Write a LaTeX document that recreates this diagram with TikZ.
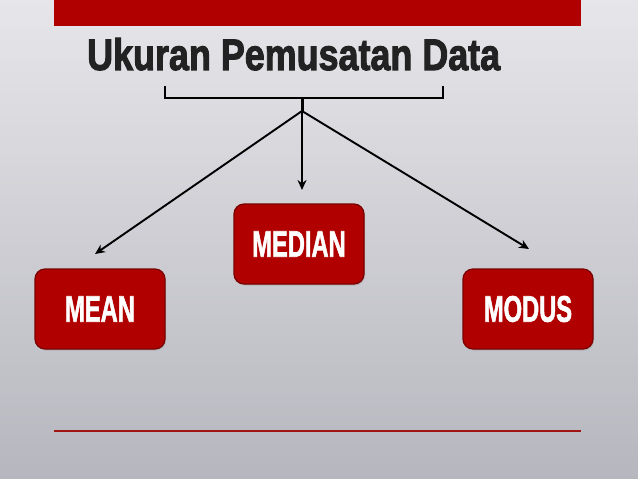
\documentclass[tikz,border=0pt]{standalone}
\usepackage{fontspec}
\setmainfont{Liberation Sans}
\newfontfamily\heavyfont[FakeBold=2.5]{Liberation Sans Bold}
\newfontfamily\boxfont[FakeBold=2]{Liberation Sans Bold}
\usetikzlibrary{arrows.meta,shadows}
\definecolor{barred}{HTML}{B00000}
\definecolor{boxedge}{HTML}{7A0000}
\definecolor{bgtop}{HTML}{E6E6EA}
\definecolor{bgbot}{HTML}{B6B6BE}
\definecolor{titlecol}{HTML}{222222}
\definecolor{linered}{HTML}{A01414}
\begin{document}
\begin{tikzpicture}[x=1pt,y=-1pt,
  box/.style={draw=boxedge,line width=1.2pt,fill=barred,rounded corners=10pt,
    minimum width=130pt,minimum height=80pt,inner sep=0pt,text=white,
    font=\boxfont\fontsize{37}{37}\selectfont,
    drop shadow={opacity=0.3,shadow xshift=1pt,shadow yshift=-1.5pt}},
  conn/.style={line width=1.9pt,-{Stealth[length=10pt,width=9pt]}},
  brace/.style={line width=2pt,line cap=butt}]
\shade[top color=bgtop,bottom color=bgbot] (0,0) rectangle (638,479);
\useasboundingbox (0,0) rectangle (638,479);
% top bar
\fill[barred] (54,0) rectangle (581,26);
% title
\node[anchor=base west,inner sep=0pt,text=titlecol] (title) at (87,70)
  {\resizebox{413pt}{32pt}{\heavyfont Ukuran Pemusatan Data}};
% bracket
\coordinate (bl) at (165,86);
\coordinate (br) at (443,86);
\coordinate (bc) at (302,98);
\coordinate (hub) at (302,111);
\draw[brace] (bl) |- (bc) -| (br);
\draw[line width=3pt] (bc) -- (hub);
% boxes
\node[box] (median) at (299,244) {\scalebox{0.64}[1]{MEDIAN}};
\node[box] (mean) at (100,309) {\scalebox{0.64}[1]{MEAN}};
\node[box] (modus) at (528,309) {\scalebox{0.64}[1]{MODUS}};
% arrow ends
\coordinate (emean) at (95,254);
\coordinate (emed) at (302,190);
\coordinate (emod) at (529,249);
\draw[conn] (hub) -- (emean);
\draw[conn] (hub) -- (emed);
\draw[conn] (hub) -- (emod);
% bottom line
\draw[linered,line width=2.2pt] (54,431) -- (581,431);
\end{tikzpicture}
\end{document}
